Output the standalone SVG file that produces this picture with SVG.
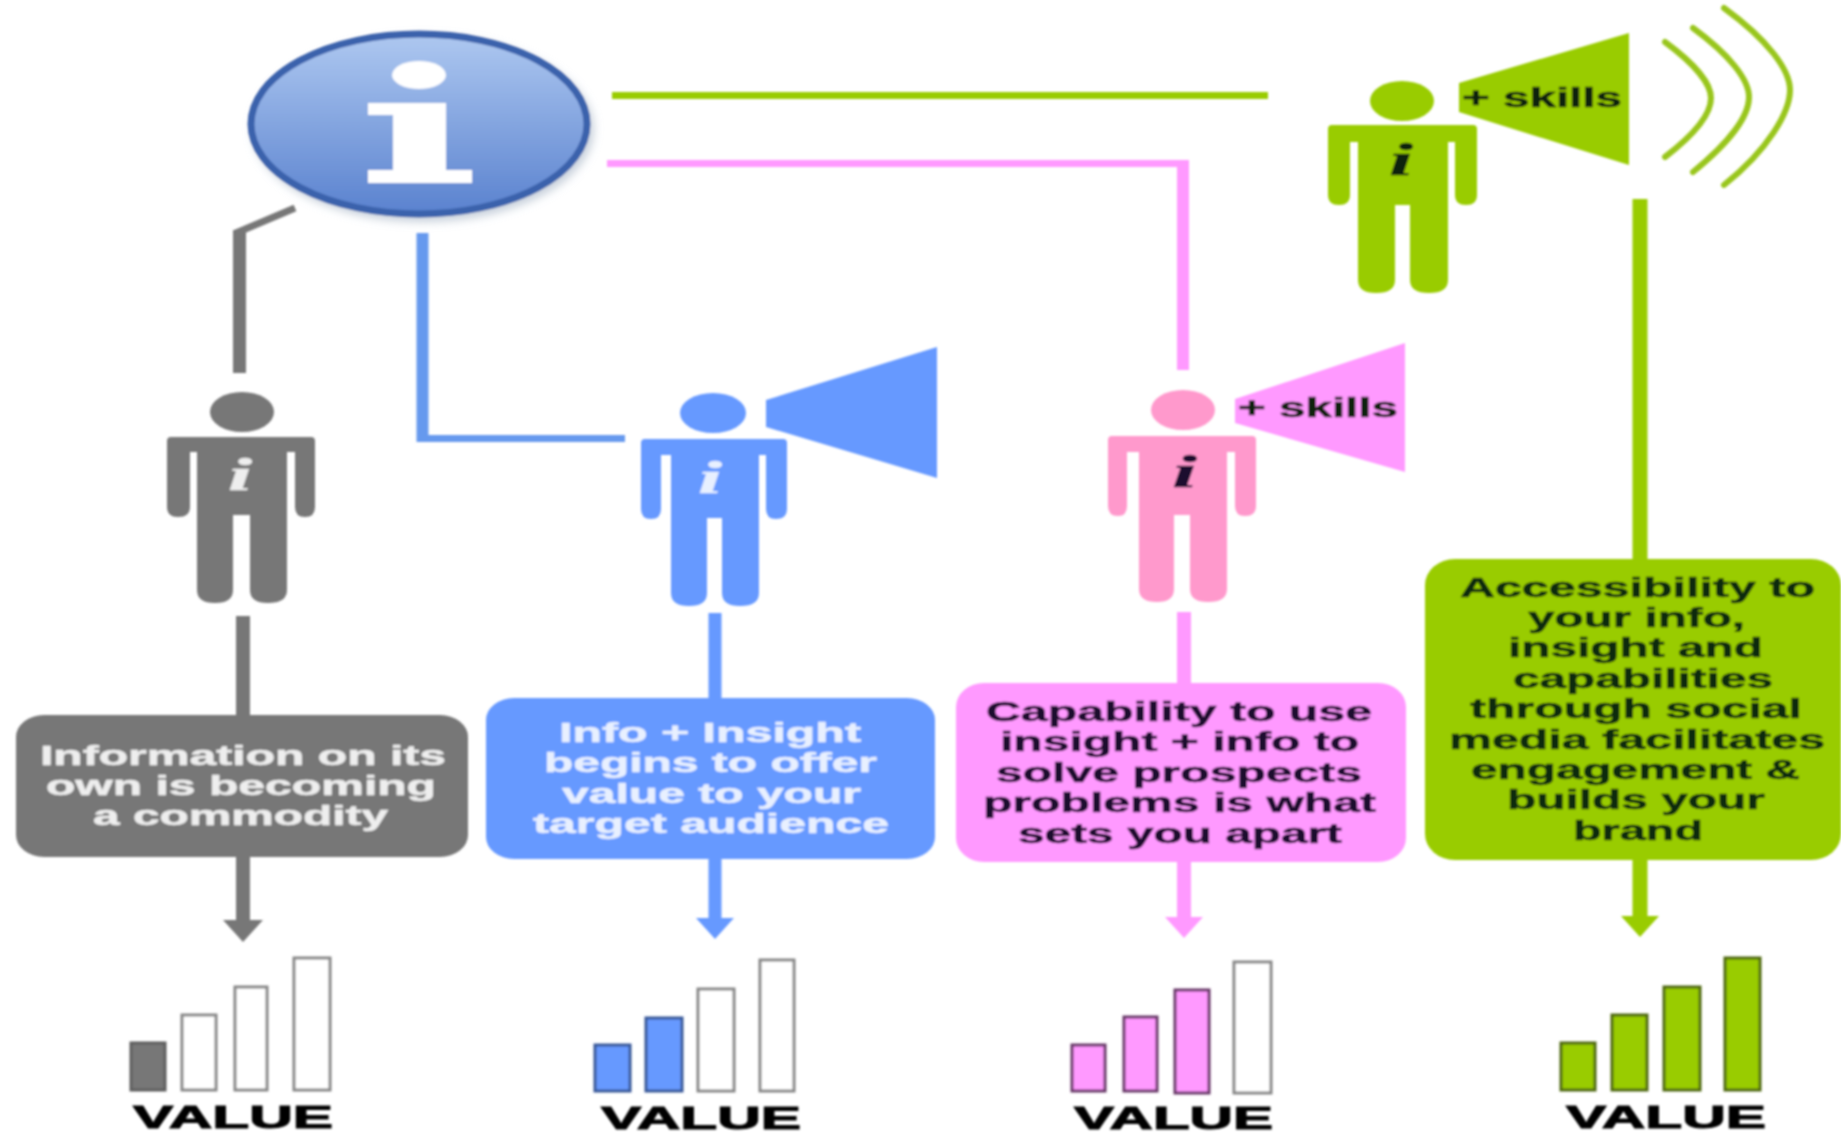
<svg xmlns="http://www.w3.org/2000/svg" width="1841" height="1134" viewBox="0 0 1841 1134">
<style>
.grey{fill:#777777}.blue{fill:#6699ff}.pink{fill:#ff99ff}.rose{fill:#ff99cc}.green{fill:#99cc00}
.lg{stroke:#777777}.lb{stroke:#6699ee}.lp{stroke:#ff99ff}.lgr{stroke:#99cc00}
line,polyline{fill:none}
text{font-family:"Liberation Sans",Arial,sans-serif;font-weight:700;font-size:27px;stroke-width:.5}
.i{font-family:"Liberation Serif","Times New Roman",serif;font-style:italic;font-size:46px}
.val{font-size:31px;fill:#000;stroke:#000;stroke-width:1}
.light{fill:#eeeeee;stroke:#eeeeee}.lightb{fill:#e8f0ff;stroke:#e8f0ff}.dpink{fill:#1f0a2e;stroke:#1f0a2e}.dgreen{fill:#0c2a0a;stroke:#0c2a0a}
.sk{fill:#10200a;stroke:#10200a}
.empty{fill:#ffffff;stroke:#888888;stroke-width:3}
.bg{fill:#777777;stroke:#5f5f5f;stroke-width:3}.bb{fill:#6699ff;stroke:#3a5a9a;stroke-width:3}
.bp{fill:#ff99ff;stroke:#6a3a6a;stroke-width:3}.bgr{fill:#99cc00;stroke:#4f6a10;stroke-width:3}
.wave{fill:none;stroke:#99c61a;stroke-width:6;stroke-linecap:round}
</style>
<defs>
<filter id="soft" x="-2%" y="-2%" width="104%" height="104%"><feGaussianBlur stdDeviation="0.9"/></filter>
<filter id="shadow" x="-10%" y="-10%" width="120%" height="125%"><feGaussianBlur stdDeviation="4"/></filter>
<linearGradient id="orb" x1="0" y1="0" x2="0" y2="1"><stop offset="0" stop-color="#aec8f0"/><stop offset="1" stop-color="#5a82cf"/></linearGradient>
<marker id="ag" markerUnits="userSpaceOnUse" markerWidth="24" markerHeight="44" refX="0" refY="22" orient="auto"><path d="M0 2L22 22L0 42Z" fill="#777777"/></marker>
<marker id="ab" markerUnits="userSpaceOnUse" markerWidth="24" markerHeight="44" refX="0" refY="22" orient="auto"><path d="M0 3L21 22L0 41Z" fill="#6699ff"/></marker>
<marker id="ap" markerUnits="userSpaceOnUse" markerWidth="24" markerHeight="44" refX="0" refY="22" orient="auto"><path d="M0 3L21 22L0 41Z" fill="#ff99ff"/></marker>
<marker id="agr" markerUnits="userSpaceOnUse" markerWidth="24" markerHeight="44" refX="0" refY="22" orient="auto"><path d="M0 3L21 22L0 41Z" fill="#99cc00"/></marker>
</defs>
<rect width="1841" height="1134" fill="#ffffff"/>
<g filter="url(#soft)">
<g id="connectors">
<line class="lg" x1="295" y1="208" x2="236" y2="233" stroke-width="7"/>
<line class="lg" x1="239.500" y1="230" x2="239.500" y2="373" stroke-width="13"/>
<line class="lb" x1="422.500" y1="233" x2="422.500" y2="442" stroke-width="12"/>
<line class="lb" x1="417" y1="438.500" x2="625" y2="438.500" stroke-width="7"/>
<line class="lp" x1="607" y1="163.500" x2="1189" y2="163.500" stroke-width="7"/>
<line class="lp" x1="1183" y1="160" x2="1183" y2="370" stroke-width="12"/>
<line class="lgr" x1="612" y1="95.500" x2="1268" y2="95.500" stroke-width="7"/>
<line class="lg" x1="243" y1="616" x2="243" y2="920" stroke-width="14" marker-end="url(#ag)"/>
<line class="lb" x1="715" y1="613" x2="715" y2="918" stroke-width="13" style="stroke:#6699ff" marker-end="url(#ab)"/>
<line class="lp" x1="1184" y1="612" x2="1184" y2="917" stroke-width="14" marker-end="url(#ap)"/>
<line class="lgr" x1="1640" y1="199" x2="1640" y2="916" stroke-width="15" marker-end="url(#agr)"/>
</g>
<g id="info">
<ellipse cx="423" cy="129" rx="171" ry="93" fill="#c8d0dc" filter="url(#shadow)"/>
<ellipse cx="419" cy="124" rx="168" ry="90" fill="url(#orb)" stroke="#3b62ac" stroke-width="7"/>
<ellipse cx="419" cy="75" rx="27" ry="14" fill="#ffffff"/>
<path d="M368 103H446V170H472V183H368V170H393V115H368Z" fill="#ffffff"/>
</g>
<g id="person-grey">
<ellipse class="grey" cx="242" cy="412" rx="32" ry="20"/>
<path class="grey" d="M171 437H311Q315 437 315 441V507Q315 517 305 517Q295 517 295 507V452H287V590Q287 603 268 603Q250 603 250 590V515H233V590Q233 603 215 603Q197 603 197 590V452H190V507Q190 517 178 517Q167 517 167 507V441Q167 437 171 437Z"/>
<text class="i light" x="228" y="490" textLength="24" lengthAdjust="spacingAndGlyphs">i</text>
</g>
<g id="person-blue">
<ellipse class="blue" cx="713" cy="413" rx="33" ry="20"/>
<path class="blue" d="M645 439H783Q787 439 787 443V509Q787 519 776 519Q766 519 766 509V455H759V593Q759 606 740 606Q722 606 722 593V518H707V593Q707 606 689 606Q671 606 671 593V455H661V509Q661 519 651 519Q641 519 641 509V443Q641 439 645 439Z"/>
<polygon class="blue" points="766,400 937,347 937,478 766,427"/>
<text class="i lightb" x="698" y="493" textLength="24" lengthAdjust="spacingAndGlyphs">i</text>
</g>
<g id="person-pink">
<ellipse class="rose" cx="1183" cy="410" rx="32" ry="20"/>
<path class="rose" d="M1112 436H1252Q1256 436 1256 440V506Q1256 516 1245 516Q1235 516 1235 506V452H1227V589Q1227 602 1208 602Q1190 602 1190 589V515H1174V589Q1174 602 1157 602Q1139 602 1139 589V452H1127V506Q1127 516 1118 516Q1108 516 1108 506V440Q1108 436 1112 436Z"/>
<polygon class="pink" points="1235,399 1405,343 1405,472 1235,423"/>
<text class="sk" x="1238" y="417" textLength="160" lengthAdjust="spacingAndGlyphs">+ skills</text>
<text class="i dpink" x="1172" y="487" textLength="25" lengthAdjust="spacingAndGlyphs">i</text>
</g>
<g id="person-green">
<ellipse class="green" cx="1402" cy="101" rx="32" ry="20"/>
<path class="green" d="M1332 125H1473Q1477 125 1477 129V195Q1477 205 1466 205Q1455 205 1455 195V142H1448V280Q1448 293 1429 293Q1410 293 1410 280V205H1395V280Q1395 293 1376 293Q1358 293 1358 280V142H1350V195Q1350 205 1339 205Q1328 205 1328 195V129Q1328 125 1332 125Z"/>
<polygon class="green" points="1459,83 1629,33 1629,165 1459,112"/>
<path class="wave" d="M1665 42C1695 64 1711 84 1711 98C1711 114 1695 134 1665 157"/>
<path class="wave" d="M1693 28C1730 55 1749 80 1749 97C1749 116 1730 142 1693 172"/>
<path class="wave" d="M1724 8C1768 40 1790 70 1790 90C1790 112 1768 150 1724 185"/>
<text class="sk" x="1462" y="107" textLength="160" lengthAdjust="spacingAndGlyphs">+ skills</text>
<text class="i sk" x="1389" y="175" textLength="24" lengthAdjust="spacingAndGlyphs">i</text>
</g>
<g id="box-grey">
<rect class="grey" x="16" y="715" width="452" height="142" rx="28" ry="22"/>
<text class="light" x="40" y="765" textLength="406" lengthAdjust="spacingAndGlyphs">Information on its</text>
<text class="light" x="46" y="795" textLength="390" lengthAdjust="spacingAndGlyphs">own is becoming</text>
<text class="light" x="93" y="825" textLength="295" lengthAdjust="spacingAndGlyphs">a commodity</text>
</g>
<g id="box-blue">
<rect class="blue" x="486" y="698" width="449" height="161" rx="28" ry="22"/>
<text class="lightb" x="559" y="742" textLength="302" lengthAdjust="spacingAndGlyphs">Info + Insight</text>
<text class="lightb" x="544" y="772" textLength="333" lengthAdjust="spacingAndGlyphs">begins to offer</text>
<text class="lightb" x="562" y="803" textLength="299" lengthAdjust="spacingAndGlyphs">value to your</text>
<text class="lightb" x="533" y="833" textLength="356" lengthAdjust="spacingAndGlyphs">target audience</text>
</g>
<g id="box-pink">
<rect class="pink" x="956" y="683" width="450" height="179" rx="28" ry="24"/>
<text class="dpink" x="986" y="721" textLength="386" lengthAdjust="spacingAndGlyphs">Capability to use</text>
<text class="dpink" x="1000" y="751" textLength="359" lengthAdjust="spacingAndGlyphs">insight + info to</text>
<text class="dpink" x="996" y="782" textLength="366" lengthAdjust="spacingAndGlyphs">solve prospects</text>
<text class="dpink" x="983" y="812" textLength="393" lengthAdjust="spacingAndGlyphs">problems is what</text>
<text class="dpink" x="1018" y="843" textLength="324" lengthAdjust="spacingAndGlyphs">sets you apart</text>
</g>
<g id="box-green">
<rect class="green" x="1425" y="559" width="416" height="301" rx="30" ry="26"/>
<text class="dgreen" x="1460" y="597" textLength="355" lengthAdjust="spacingAndGlyphs">Accessibility to</text>
<text class="dgreen" x="1528" y="627" textLength="217" lengthAdjust="spacingAndGlyphs">your info,</text>
<text class="dgreen" x="1508" y="657" textLength="255" lengthAdjust="spacingAndGlyphs">insight and</text>
<text class="dgreen" x="1513" y="688" textLength="260" lengthAdjust="spacingAndGlyphs">capabilities</text>
<text class="dgreen" x="1470" y="718" textLength="332" lengthAdjust="spacingAndGlyphs">through social</text>
<text class="dgreen" x="1449" y="749" textLength="376" lengthAdjust="spacingAndGlyphs">media facilitates</text>
<text class="dgreen" x="1471" y="779" textLength="329" lengthAdjust="spacingAndGlyphs">engagement &amp;</text>
<text class="dgreen" x="1507" y="809" textLength="258" lengthAdjust="spacingAndGlyphs">builds your</text>
<text class="dgreen" x="1573" y="840" textLength="130" lengthAdjust="spacingAndGlyphs">brand</text>
</g>
<g id="value-grey">
<rect class="bg" x="131" y="1043" width="34" height="47"/>
<rect class="empty" x="182" y="1015" width="34" height="75"/>
<rect class="empty" x="235" y="987" width="32" height="103"/>
<rect class="empty" x="294" y="958" width="36" height="132"/>
<text class="val" x="133" y="1128" textLength="200" lengthAdjust="spacingAndGlyphs">VALUE</text>
</g>
<g id="value-blue">
<rect class="bb" x="595" y="1045" width="35" height="46"/>
<rect class="bb" x="646" y="1018" width="36" height="73"/>
<rect class="empty" x="698" y="989" width="36" height="102"/>
<rect class="empty" x="760" y="960" width="34" height="131"/>
<text class="val" x="601" y="1129" textLength="200" lengthAdjust="spacingAndGlyphs">VALUE</text>
</g>
<g id="value-pink">
<rect class="bp" x="1072" y="1045" width="33" height="46"/>
<rect class="bp" x="1124" y="1017" width="33" height="74"/>
<rect class="bp" x="1175" y="990" width="34" height="103"/>
<rect class="empty" x="1234" y="962" width="37" height="131"/>
<text class="val" x="1074" y="1129" textLength="199" lengthAdjust="spacingAndGlyphs">VALUE</text>
</g>
<g id="value-green">
<rect class="bgr" x="1561" y="1043" width="34" height="47"/>
<rect class="bgr" x="1612" y="1015" width="35" height="75"/>
<rect class="bgr" x="1664" y="987" width="36" height="103"/>
<rect class="bgr" x="1725" y="958" width="35" height="132"/>
<text class="val" x="1566" y="1128" textLength="200" lengthAdjust="spacingAndGlyphs">VALUE</text>
</g>
</g>
</svg>
